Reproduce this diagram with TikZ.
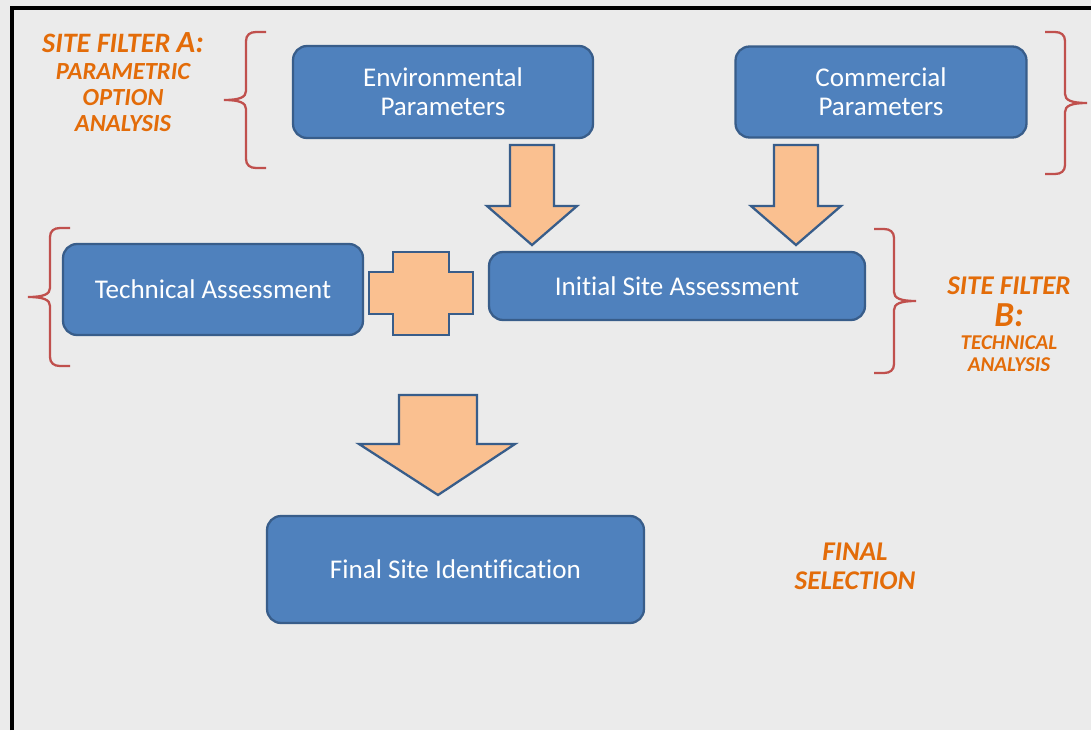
\documentclass[tikz,border=0pt]{standalone}
\usepackage{fontspec}
\setmainfont{Carlito}[Ligatures=NoCommon]
\usetikzlibrary{calc}
\definecolor{boxblue}{HTML}{4F81BD}
\definecolor{boxline}{HTML}{385D8A}
\definecolor{arrowfill}{HTML}{FAC090}
\definecolor{bracered}{HTML}{C0504D}
\definecolor{filterorange}{HTML}{E36C09}
\definecolor{paper}{HTML}{EBEBEB}
\tikzset{
  stage/.style={draw=boxline,line width=1.3pt,fill=boxblue,rounded corners=0.28cm,
    text=white,font=\fontsize{15.4}{16.5}\selectfont,align=center,inner sep=0pt},
  blockarrow/.style={draw=boxline,line width=1.3pt,fill=arrowfill,line join=miter},
  curly/.style={draw=bracered,line width=1.3pt},
  filter/.style={text=filterorange,font=\bfseries\itshape\fontsize{14}{14.8}\selectfont,
    align=center,inner sep=0pt},
  % brace with its point at the origin, opening to the right; #1 = half height
  pics/sidebrace/.style={code={
    \draw[curly] (42,-#1) -- (32,-#1) .. controls (26,-#1) and (22,-#1+3) .. (22,-#1+9)
      -- (22,-9) .. controls (22,-3) and (16,0) .. (0,0)
      .. controls (16,0) and (22,3) .. (22,9)
      -- (22,#1-9) .. controls (22,#1-3) and (26,#1) .. (32,#1) -- (42,#1);
  }},
  % block arrow pointing down, from the top of its shaft
  pics/downarrow/.style={code={
    \draw[blockarrow] (-22,0) -- (22,0) -- (22,61) -- (45,61) -- (0,100)
      -- (-45,61) -- (-22,61) -- cycle;
  }}
}
\begin{document}
\begin{tikzpicture}[x=0.02cm,y=-0.02cm]
  \fill[paper] (0,0) rectangle (1091,730);
  \useasboundingbox (0,0) rectangle (1091,730);
  \draw[line width=2.3pt] (12,730) -- (12,8) -- (1091,8);

  %--- Stages ------------------------------------------------------------------
  \node[stage,minimum width=6cm,minimum height=1.84cm] (env) at (443,92) {Environmental\\Parameters};
  \node[stage,minimum width=5.82cm,minimum height=1.82cm] (com) at (881,92) {Commercial\\Parameters};
  \node[stage,minimum width=6cm,minimum height=1.82cm] (tech) at (213,289.5) {Technical Assessment};
  \node[stage,minimum width=7.52cm,minimum height=1.36cm] (isa) at (677,286) {Initial Site Assessment};
  \node[stage,minimum width=7.54cm,minimum height=2.14cm] (final) at (455.5,569.5) {Final Site Identification};

  %--- Block arrows and the plus -----------------------------------------------
  \pic at (532,145) {downarrow};
  \pic at (796,145) {downarrow};
  \draw[blockarrow] (393,252) -- (449,252) -- (449,272) -- (473,272) -- (473,314)
    -- (449,314) -- (449,335) -- (393,335) -- (393,314) -- (369,314) -- (369,272)
    -- (393,272) -- cycle;
  \draw[blockarrow] (399,395) -- (477,395) -- (477,444) -- (515,444) -- (438,495)
    -- (359,444) -- (399,444) -- cycle;

  %--- Braces ------------------------------------------------------------------
  \pic at (224,100) {sidebrace=68};
  \pic at (28,297) {sidebrace=69};
  \pic[xscale=-1] at (1087,103) {sidebrace=71};
  \pic[xscale=-1] at (916,301) {sidebrace=72};

  %--- Filter labels -----------------------------------------------------------
  \node[filter,anchor=base,font=\bfseries\itshape\fontsize{16}{16}\selectfont] (filtA) at (123,52)
    {SITE FILTER {\fontsize{17.5}{17.5}\selectfont A:}};
  \node[filter] (filtAsub) at (123,98) {PARAMETRIC\\OPTION\\ANALYSIS};
  \node[filter,anchor=base,font=\bfseries\itshape\fontsize{15.4}{16}\selectfont] (filtB) at (1009,294) {SITE FILTER};
  \node[filter,anchor=base,font=\bfseries\itshape\fontsize{20}{20}\selectfont] (filtBkey) at (1009,326) {B:};
  \node[filter,font=\bfseries\itshape\fontsize{12}{12.5}\selectfont] (filtBsub) at (1009,354) {TECHNICAL\\ANALYSIS};
  \node[filter,font=\bfseries\itshape\fontsize{15.4}{16.5}\selectfont] (finalsel) at (855,566) {FINAL\\SELECTION};
\end{tikzpicture}
\end{document}
